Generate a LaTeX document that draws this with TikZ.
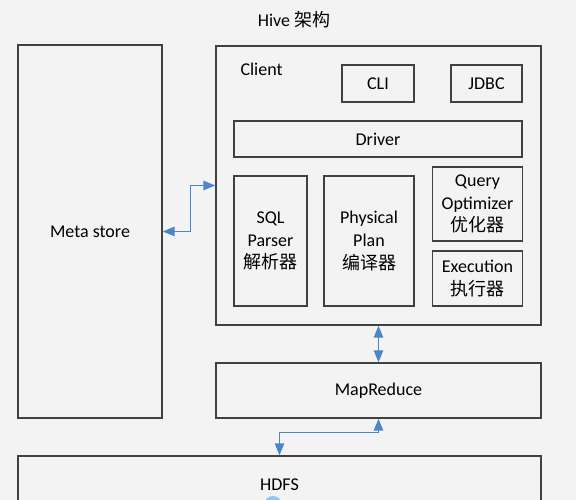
\documentclass[tikz,border=0pt]{standalone}
\usepackage{fontspec}
\setmainfont{Carlito}
\newfontfamily\cjk{Noto Sans CJK SC}
\usetikzlibrary{arrows.meta}
\definecolor{bgcol}{RGB}{243,243,243}
\definecolor{boxline}{RGB}{65,65,65}
\definecolor{linkblue}{RGB}{74,134,200}
\definecolor{dotblue}{RGB}{145,196,240}
\tikzset{every picture/.style={line width=0.75pt}}
\tikzset{
  archbox/.style 2 args={draw=boxline, line width=1pt, inner sep=0.75pt, align=center,
    minimum width=#1*0.75pt, minimum height=#2*0.75pt,
    font=\fontsize{13.5}{17}\selectfont},
  link/.style={draw=linkblue, line width=1.2pt,
    {Triangle[length=9pt,width=7pt]}-{Triangle[length=9pt,width=7pt]}}
}

\begin{document}
\begin{tikzpicture}[x=0.75pt,y=0.75pt,yscale=-1,xscale=1]
%set diagram to the reference size
\clip (0,0) rectangle (576,500);
\fill[bgcol] (0,0) rectangle (576,500);
% Text Node
\node (title) at (294,20) [inner sep=0.75pt, font=\fontsize{13.5}{17}\selectfont] {Hive {\cjk 架构}};
%Shape: Rectangle [meta store]
\node (meta) at (90,231.5) [archbox={144}{373}] {Meta store};
%Shape: Rectangle [client]
\node (client) at (378.5,185.5) [archbox={325}{279}] {};
% Text Node
\node (clientlbl) at (239,69) [anchor=west, inner sep=0.75pt, font=\fontsize{13.5}{17}\selectfont] {Client};
%Shape: Rectangle [cli]
\node (cli) at (378,83.5) [archbox={72}{37}] {CLI};
%Shape: Rectangle [jdbc]
\node (jdbc) at (486.5,83.5) [archbox={71}{37}] {JDBC};
%Shape: Rectangle [driver]
\node (driver) at (378,139) [archbox={288}{36}] {Driver};
%Shape: Rectangle [sql parser]
\node (parser) at (270.5,241) [archbox={73}{130}] {SQL\\Parser\\{\cjk 解析器}};
%Shape: Rectangle [physical plan]
\node (plan) at (369,241) [archbox={90}{130}] {Physical\\Plan\\{\cjk 编译器}};
%Shape: Rectangle [optimizer]
\node (optim) at (477.5,204) [archbox={90}{74}] {Query\\Optimizer\\{\cjk 优化器}};
%Shape: Rectangle [execution]
\node (exec) at (477.5,278.5) [archbox={90}{55}] {Execution\\{\cjk 执行器}};
%Shape: Rectangle [mapreduce]
\node (mr) at (378.5,390.5) [archbox={325}{55}] {MapReduce};
%Shape: Rectangle [hdfs]
\node (hdfs) at (279.5,485) [archbox={523}{58}] {HDFS};
%Shape: Circle [pointer]
\fill[dotblue] (273,505) circle (9);
%Straight Lines [meta - client]
\draw[link] (meta.east) -- ++(28,0) |- (client.west);
%Straight Lines [client - mapreduce]
\draw[link] (client.south) -- (mr.north);
%Straight Lines [mapreduce - hdfs]
\draw[link] (mr.south) -- ++(0,14) -| (hdfs.north);
\end{tikzpicture}
\end{document}
